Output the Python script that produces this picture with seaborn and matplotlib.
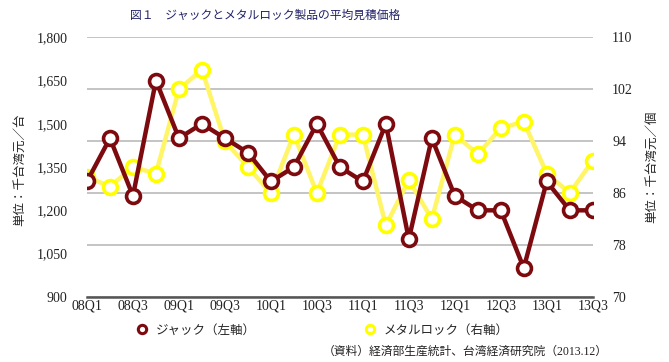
import matplotlib
matplotlib.use("Agg")
import matplotlib.pyplot as plt
from matplotlib.lines import Line2D
import seaborn as sns
import pandas as pd

quarters = ["08Q1", "08Q2", "08Q3", "08Q4", "09Q1", "09Q2", "09Q3", "09Q4",
            "10Q1", "10Q2", "10Q3", "10Q4", "11Q1", "11Q2", "11Q3", "11Q4",
            "12Q1", "12Q2", "12Q3", "12Q4", "13Q1", "13Q2", "13Q3"]
jack = [1300, 1450, 1250, 1650, 1450, 1500, 1450, 1400, 1300, 1350, 1500, 1350,
        1300, 1500, 1100, 1450, 1250, 1200, 1200, 1000, 1300, 1200, 1200]
metal = [88.5, 87, 90, 89, 102, 105, 94, 90, 86, 95, 86, 95,
         95, 81, 88, 82, 95, 92, 96, 97, 89, 86, 91]
left_ticks = [900, 1050, 1200, 1350, 1500, 1650, 1800]
right_ticks = [70, 78, 86, 94, 102, 110]

title = "図１　ジャックとメタルロック製品の平均見積価格"
left_label = "単位：千台湾元／台"
right_label = "単位：千台湾元／個"
jack_name = "ジャック（左軸）"
metal_name = "メタルロック（右軸）"
source = "（資料）経済部生産統計、台湾経済研究院（2013.12）"

df = pd.DataFrame({"pos": range(len(quarters)), "q": quarters,
                   "jack": jack, "metal": metal})

sns.set_style("white")
fonts = ["Liberation Serif", "Noto Sans CJK JP", "DejaVu Sans"]
plt.rcParams["font.family"] = fonts

RED = "#7d0a0e"
YEL = "#ffff00"
YEL_LINE = "#fff566"

fig = plt.figure(figsize=(6.69, 3.62), dpi=100)
ax = fig.add_axes([0.130, 0.180, 0.756, 0.717])
ax2 = ax.twinx()

# yellow series on the base axes (right scale) so the red one sits on top
sns.lineplot(data=df, x="pos", y="metal", ax=ax, color=YEL_LINE, lw=3.2,
             marker="o", markersize=10, markerfacecolor="white",
             markeredgecolor=YEL, markeredgewidth=2.6)
ax.set_ylim(70, 110)
ax.set_yticks(right_ticks)
ax.grid(axis="y", color="#b4b4b4", lw=1.1)
ax.set_axisbelow(True)

sns.lineplot(data=df, x="pos", y="jack", ax=ax2, color=RED, lw=3.2,
             marker="o", markersize=10, markerfacecolor="white",
             markeredgecolor=RED, markeredgewidth=2.6)
ax2.set_ylim(900, 1800)
ax2.set_yticks(left_ticks)
ax2.set_yticklabels([f"{v:,}" for v in left_ticks])
ax2.grid(False)

# swap sides: per-piece scale on the right, per-unit scale on the left
ax.yaxis.tick_right()
ax2.yaxis.tick_left()

ax.set_xlim(0, len(quarters) - 1)
ax.set_xticks(df["pos"][::2])
ax.set_xticklabels(df["q"][::2])

for a in (ax, ax2):
    for s in a.spines.values():
        s.set_visible(False)
    a.set_xlabel("")
    a.set_ylabel("")
    a.tick_params(length=0, labelsize=10, colors="#222222")
ax.spines["bottom"].set_visible(True)
ax.spines["bottom"].set_color("#555555")
ax.spines["bottom"].set_linewidth(1.8)
ax.tick_params(axis="x", pad=2)
ax.tick_params(axis="y", pad=14)
ax2.tick_params(axis="y", pad=14)

fig.text(0.397, 0.955, title, ha="center", va="center", fontsize=8.5,
         color="#222266", family=fonts)
fig.text(0.030, 0.530, left_label, ha="center", va="center", rotation=90,
         fontsize=9, family=fonts, color="#222222")
fig.text(0.975, 0.538, right_label, ha="center", va="center", rotation=90,
         fontsize=9, family=fonts, color="#222222")

handles = [Line2D([], [], ls="none", marker="o", markersize=6,
                  markerfacecolor="white", markeredgecolor=RED, markeredgewidth=2.2),
           Line2D([], [], ls="none", marker="o", markersize=6,
                  markerfacecolor="white", markeredgecolor=YEL, markeredgewidth=2.2)]
fig.legend(handles, [jack_name, metal_name], loc="center",
           bbox_to_anchor=(0.482, 0.086), ncol=2, frameon=False,
           columnspacing=8.6, handletextpad=0.6, handlelength=1.0,
           prop={"family": fonts, "size": 9})

fig.text(0.909, 0.027, source, ha="right", va="center", fontsize=8.5,
         family=fonts, color="#222222")

fig.savefig("out.png", dpi=100)
